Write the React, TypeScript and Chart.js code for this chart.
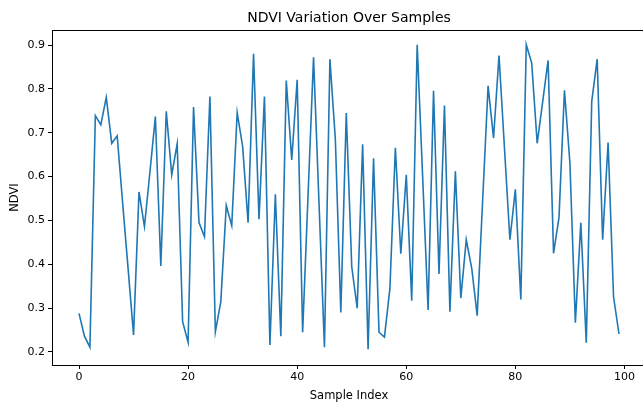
import React, { useEffect, useRef } from "react";
import { Chart, registerables } from "chart.js";

Chart.register(...registerables);

const ndvi: number[] = [
  0.288, 0.236, 0.211, 0.739, 0.718, 0.781, 0.676, 0.693, 0.54, 0.39,
  0.239, 0.565, 0.486, 0.61, 0.737, 0.396, 0.749, 0.604, 0.675, 0.269,
  0.222, 0.759, 0.495, 0.463, 0.783, 0.246, 0.315, 0.534, 0.488, 0.746,
  0.669, 0.495, 0.88, 0.503, 0.783, 0.216, 0.56, 0.236, 0.819, 0.638,
  0.821, 0.245, 0.56, 0.872, 0.54, 0.211, 0.868, 0.684, 0.29, 0.745,
  0.395, 0.3, 0.674, 0.206, 0.642, 0.245, 0.234, 0.345, 0.666, 0.424,
  0.604, 0.317, 0.901, 0.6, 0.296, 0.796, 0.378, 0.762, 0.292, 0.612,
  0.323, 0.456, 0.391, 0.283, 0.545, 0.807, 0.688, 0.876, 0.666, 0.456,
  0.571, 0.32, 0.901, 0.859, 0.676, 0.77, 0.865, 0.425, 0.507, 0.797,
  0.631, 0.267, 0.495, 0.221, 0.771, 0.868, 0.456, 0.678, 0.326, 0.241,
];
const sampleIndex: number[] = ndvi.map((_, i) => i);

const titleText = "NDVI Variation Over Samples";
const xLabel = "Sample Index";
const yLabel = "NDVI";

const FONT = "'DejaVu Sans', sans-serif";

const boxPlugin = {
  id: "box",
  afterDatasetsDraw(chart: any) {
    const { ctx, chartArea } = chart;
    ctx.save();
    ctx.strokeStyle = "#000";
    ctx.lineWidth = 1;
    ctx.strokeRect(
      Math.round(chartArea.left) + 0.5,
      Math.round(chartArea.top) + 0.5,
      Math.round(chartArea.right - chartArea.left),
      Math.round(chartArea.bottom - chartArea.top)
    );
    ctx.restore();
  },
  afterDraw(chart: any) {
    const { ctx, chartArea } = chart;
    ctx.save();
    ctx.fillStyle = "#000";
    ctx.font = `14px ${FONT}`;
    ctx.textAlign = "center";
    ctx.textBaseline = "middle";
    ctx.fillText(titleText, (chartArea.left + chartArea.right) / 2, 18);
    ctx.restore();
  },
};

export default function App() {
  const ref = useRef<HTMLCanvasElement>(null);
  useEffect(() => {
    document.body.style.margin = "0";
    const chart = new Chart(ref.current!, {
      type: "line",
      data: {
        datasets: [
          {
            data: sampleIndex.map((x, i) => ({ x, y: ndvi[i] })),
            borderColor: "#1f77b4",
            borderWidth: 1.6,
            pointRadius: 0,
            tension: 0,
            fill: false,
          },
        ],
      },
      options: {
        animation: false,
        responsive: false,
        devicePixelRatio: 1,
        layout: { padding: { left: 0, right: 4, top: 30, bottom: 0 } },
        plugins: {
          legend: { display: false },
          tooltip: { enabled: false },
          title: { display: false },
        },
        scales: {
          x: {
            type: "linear",
            min: -4.95,
            max: 103.95,
            afterFit(scale: any) {
              scale.height = 38;
            },
            ticks: {
              stepSize: 20,
              includeBounds: false,
              color: "#000",
              font: { family: FONT, size: 11 },
              padding: 2,
              maxRotation: 0,
            },
            grid: { drawOnChartArea: false, tickLength: 4, color: "#000" },
            border: { display: true, color: "#000" },
            title: {
              display: true,
              text: xLabel,
              color: "#000",
              font: { family: FONT, size: 11.5 },
              padding: { top: 0, bottom: 0 },
            },
          },
          y: {
            type: "linear",
            min: 0.1703,
            max: 0.9345,
            afterFit(scale: any) {
              scale.width = 52;
            },
            ticks: {
              stepSize: 0.1,
              includeBounds: false,
              color: "#000",
              font: { family: FONT, size: 11 },
              padding: 3,
              callback: (v: any) => Number(v).toFixed(1),
            },
            grid: { drawOnChartArea: false, tickLength: 4, color: "#000" },
            border: { display: true, color: "#000" },
            title: {
              display: true,
              text: yLabel,
              color: "#000",
              font: { family: FONT, size: 11.5 },
              padding: { top: 8, bottom: 4 },
            },
          },
        },
      },
      plugins: [boxPlugin],
    });
    return () => chart.destroy();
  }, []);
  return (
    <div style={{ width: 643, height: 403, overflow: "hidden" }}>
      <canvas ref={ref} width={650} height={403} style={{ width: 650, height: 403, display: "block" }} />
    </div>
  );
}
